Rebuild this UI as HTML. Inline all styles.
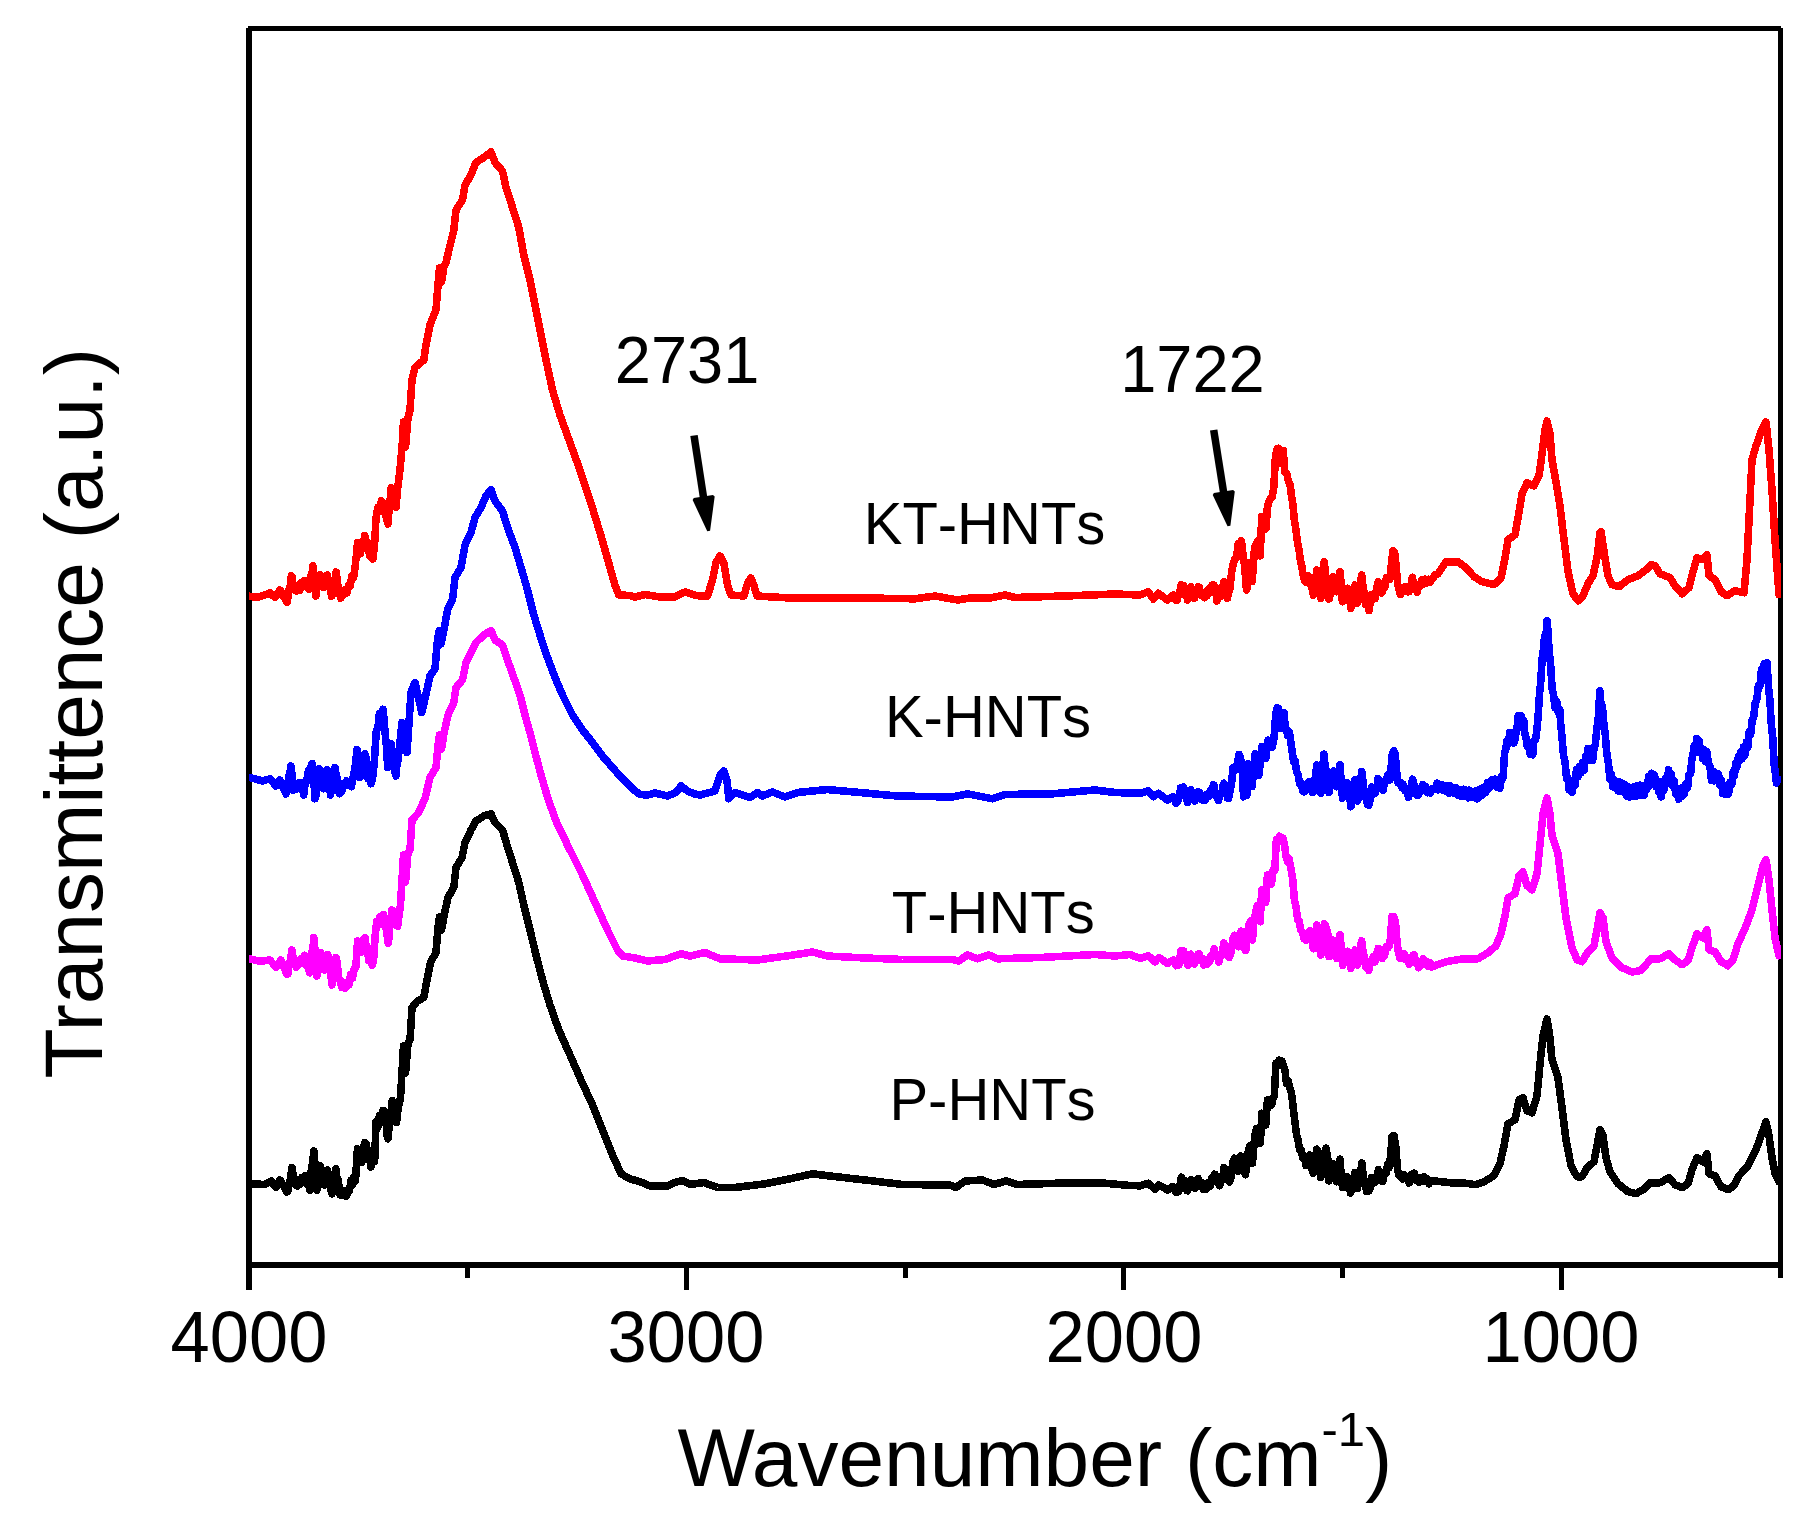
<!DOCTYPE html>
<html lang="en">
<head>
<meta charset="utf-8">
<title>FTIR spectra of HNTs</title>
<style>
html,body{margin:0;padding:0;background:#fff;}
body{width:1818px;height:1517px;overflow:hidden;font-family:"Liberation Sans",sans-serif;}
svg{display:block;}
text{font-kerning:none;}
</style>
</head>
<body>
<svg width="1818" height="1517" viewBox="0 0 1818 1517">
<rect x="0" y="0" width="1818" height="1517" fill="#ffffff"/>
<g fill="#000000" shape-rendering="crispEdges">
<rect x="246" y="28" width="6" height="1262"/>
<rect x="248" y="26" width="1533" height="5"/>
<rect x="1778" y="28" width="5" height="1250"/>
<rect x="246" y="1262" width="1537" height="6"/>
<rect x="684" y="1262" width="5" height="28"/>
<rect x="1121" y="1262" width="5" height="28"/>
<rect x="1559" y="1262" width="5" height="28"/>
<rect x="465" y="1262" width="5" height="16"/>
<rect x="903" y="1262" width="5" height="16"/>
<rect x="1340" y="1262" width="5" height="16"/>
</g>
<clipPath id="plot"><rect x="249" y="31" width="1532" height="1231"/></clipPath>
<g clip-path="url(#plot)">
<polyline id="c-black" fill="none" stroke="#000000" stroke-width="7.6" stroke-linejoin="round" stroke-linecap="round" shape-rendering="crispEdges" points="250.0,1183.8 265.0,1184.5 271.0,1181.0 276.0,1187.5 280.0,1180.0 287.0,1192.0 288.0,1191.0 288.7,1184.4 290.6,1178.4 291.8,1168.8 292.1,1167.5 293.8,1180.1 295.5,1182.8 295.5,1185.0 297.3,1186.0 298.7,1179.8 300.2,1184.0 302.0,1177.5 303.4,1182.0 305.0,1177.5 305.1,1175.9 306.8,1183.8 308.3,1183.1 309.5,1187.5 309.7,1190.1 311.2,1171.4 312.8,1161.8 313.8,1151.0 314.6,1159.3 316.0,1179.2 317.0,1190.0 317.6,1184.1 319.0,1179.5 320.5,1167.5 320.6,1166.1 322.2,1177.3 323.9,1180.4 324.5,1185.0 325.3,1184.7 326.6,1172.5 327.5,1170.0 327.9,1175.8 329.3,1178.1 330.6,1189.6 332.0,1193.8 332.3,1189.5 333.9,1183.7 335.5,1169.8 336.0,1168.8 336.8,1176.7 338.2,1180.5 340.1,1194.8 341.5,1190.3 343.1,1195.2 344.9,1190.6 346.4,1196.4 348.1,1190.8 349.5,1190.8 350.9,1180.5 352.5,1184.8 354.0,1176.8 355.5,1181.0 357.2,1152.0 357.5,1148.8 359.0,1159.1 360.5,1158.1 361.0,1162.5 361.9,1162.1 363.3,1147.1 364.7,1147.8 365.0,1142.5 366.4,1143.9 367.9,1159.0 369.4,1156.2 371.0,1167.0 372.8,1159.2 374.6,1161.6 376.1,1121.6 377.8,1127.2 379.3,1115.8 380.9,1121.2 382.8,1110.7 384.3,1115.3 384.5,1111.0 385.7,1118.5 387.4,1137.5 388.0,1138.8 388.8,1129.4 390.5,1119.2 392.0,1102.5 392.2,1100.5 393.7,1112.6 395.1,1109.9 396.5,1122.4 397.0,1118.8 397.9,1110.0 400.5,1097.5 402.0,1072.0 403.5,1046.0 405.5,1073.0 408.0,1044.0 410.0,1040.0 412.0,1007.5 417.5,1001.0 423.8,997.5 427.0,980.0 430.5,962.5 436.0,952.5 438.0,928.0 439.5,917.0 441.5,930.0 444.0,916.0 448.0,897.5 453.8,887.5 456.0,867.5 462.0,857.5 465.0,842.5 471.0,830.0 476.0,821.0 483.8,816.0 491.0,813.8 495.0,822.5 502.5,830.0 507.0,845.0 512.5,862.5 518.8,882.5 523.8,905.0 530.0,930.0 536.0,955.0 542.5,980.0 550.0,1005.0 558.8,1030.0 570.0,1055.0 581.0,1080.0 592.5,1105.0 603.8,1133.0 612.5,1155.0 621.0,1173.8 630.0,1178.8 642.5,1182.5 650.0,1186.0 667.5,1186.0 675.0,1182.5 682.5,1180.5 690.0,1184.5 703.8,1182.5 717.5,1187.5 735.0,1187.5 765.0,1183.8 790.0,1178.8 812.5,1173.8 830.0,1176.0 865.0,1180.0 902.5,1184.5 950.0,1185.0 956.0,1187.5 965.0,1181.0 982.5,1180.0 993.8,1184.5 1006.0,1181.0 1017.5,1184.5 1065.0,1183.0 1102.5,1183.0 1130.0,1185.5 1140.0,1185.8 1148.3,1183.3 1155.0,1189.2 1159.0,1185.0 1167.5,1190.0 1172.5,1186.7 1176.0,1192.3 1177.8,1189.6 1178.7,1191.7 1179.7,1187.1 1181.4,1177.2 1183.2,1181.0 1184.9,1180.4 1186.7,1190.6 1187.5,1190.8 1188.5,1185.1 1189.9,1185.4 1190.8,1180.0 1191.8,1180.0 1193.4,1187.3 1195.0,1188.3 1195.2,1186.4 1197.0,1186.2 1198.3,1180.0 1198.4,1178.6 1199.9,1184.8 1201.4,1182.4 1203.3,1189.4 1204.0,1188.3 1205.1,1186.1 1206.5,1189.0 1208.2,1182.7 1210.2,1186.0 1211.6,1178.1 1213.5,1178.2 1214.5,1174.2 1215.1,1174.3 1216.4,1181.8 1218.2,1181.6 1219.5,1185.8 1221.4,1179.9 1223.1,1175.4 1224.0,1167.5 1224.7,1168.3 1226.4,1177.7 1228.0,1177.7 1228.3,1180.8 1229.5,1181.8 1231.3,1176.3 1232.7,1162.3 1234.3,1158.3 1235.7,1162.3 1237.0,1163.2 1238.3,1170.0 1238.5,1171.2 1240.3,1157.5 1240.8,1155.8 1242.2,1165.1 1244.0,1171.5 1245.6,1174.7 1247.2,1156.4 1248.6,1149.7 1250.1,1145.4 1251.9,1160.7 1252.5,1163.3 1253.2,1153.2 1254.9,1135.2 1256.4,1128.9 1258.3,1135.8 1259.8,1138.9 1260.3,1143.3 1261.3,1124.2 1261.7,1113.3 1262.8,1115.2 1264.4,1122.8 1265.8,1125.0 1266.2,1118.4 1267.5,1100.0 1267.8,1102.2 1269.2,1100.3 1270.6,1105.5 1271.7,1105.0 1272.4,1099.4 1274.3,1095.6 1276.0,1063.6 1277.9,1065.7 1279.2,1060.3 1280.6,1064.9 1281.9,1061.0 1283.5,1066.6 1285.0,1070.5 1286.5,1083.6 1288.1,1080.5 1289.9,1087.8 1291.4,1092.5 1292.8,1104.0 1294.7,1120.4 1296.5,1134.7 1298.2,1140.7 1299.7,1149.7 1301.3,1149.9 1302.8,1158.0 1304.1,1157.6 1305.8,1163.3 1306.0,1165.5 1307.6,1158.2 1309.3,1159.1 1310.0,1155.0 1310.7,1157.7 1312.1,1169.6 1313.3,1173.3 1313.9,1167.9 1315.3,1160.6 1316.7,1149.2 1317.0,1149.3 1318.4,1162.5 1319.9,1168.8 1320.8,1177.5 1321.5,1174.5 1322.9,1157.5 1324.6,1152.4 1326.1,1148.2 1327.9,1159.9 1329.0,1180.8 1329.5,1177.3 1330.8,1176.1 1332.7,1164.9 1333.3,1164.2 1334.3,1171.8 1335.7,1175.2 1336.7,1181.7 1337.3,1180.7 1339.2,1163.4 1340.0,1159.2 1340.9,1171.6 1342.5,1187.5 1342.6,1185.7 1344.0,1187.0 1345.7,1179.1 1347.1,1179.5 1347.5,1176.7 1348.9,1180.9 1350.5,1193.0 1350.8,1191.7 1352.2,1183.7 1353.8,1180.2 1355.0,1172.5 1355.7,1175.0 1357.5,1186.7 1357.5,1188.6 1359.2,1176.4 1360.5,1173.0 1361.7,1164.2 1361.8,1163.1 1363.4,1177.5 1365.0,1184.4 1366.7,1191.4 1368.2,1188.7 1369.0,1190.8 1369.9,1188.5 1371.6,1177.4 1371.7,1178.3 1373.3,1183.1 1375.0,1182.5 1375.2,1180.5 1376.5,1179.4 1378.3,1170.8 1378.4,1169.6 1380.0,1176.9 1381.4,1175.7 1382.5,1180.0 1382.8,1181.6 1384.6,1172.6 1386.0,1173.3 1387.6,1164.8 1388.9,1168.0 1390.6,1156.0 1392.2,1136.1 1393.9,1135.4 1395.7,1146.1 1397.6,1170.1 1399.0,1175.3 1400.8,1175.9 1402.5,1179.0 1403.9,1174.5 1405.4,1178.4 1407.3,1177.2 1409.0,1180.8 1409.2,1183.1 1411.1,1175.2 1412.5,1176.8 1413.3,1173.3 1414.3,1173.2 1415.9,1180.1 1417.6,1177.8 1419.2,1182.4 1420.9,1177.7 1422.7,1180.8 1424.1,1176.8 1425.9,1181.5 1427.5,1179.1 1428.9,1183.8 1430.2,1180.4 1450.0,1182.7 1466.0,1183.3 1476.0,1184.7 1484.0,1181.7 1494.0,1175.7 1500.0,1163.7 1504.0,1145.8 1508.0,1123.8 1515.0,1119.8 1519.0,1099.8 1523.0,1097.8 1527.0,1110.8 1532.0,1112.8 1537.0,1095.8 1540.0,1063.9 1543.0,1035.9 1547.0,1019.0 1550.0,1037.9 1552.0,1059.9 1558.0,1077.9 1562.0,1107.8 1566.0,1139.8 1571.0,1165.7 1577.0,1176.7 1582.0,1176.7 1587.0,1167.7 1594.0,1161.7 1597.0,1145.8 1600.0,1129.8 1603.0,1135.8 1606.0,1157.7 1610.0,1171.7 1618.0,1183.7 1628.0,1191.7 1636.0,1193.7 1643.0,1189.7 1650.0,1182.7 1660.0,1182.7 1669.0,1177.7 1675.0,1184.7 1682.0,1187.7 1688.0,1183.7 1692.0,1169.7 1697.0,1157.7 1703.0,1161.7 1707.0,1153.7 1709.0,1173.7 1715.0,1175.7 1721.0,1186.7 1728.0,1189.7 1734.0,1185.7 1739.0,1175.7 1748.0,1165.7 1756.0,1149.8 1761.0,1135.8 1766.0,1121.8 1769.0,1135.8 1772.0,1157.7 1775.0,1173.7 1779.0,1181.7"/>
<polyline id="c-mag" fill="none" stroke="#ff00ff" stroke-width="7.6" stroke-linejoin="round" stroke-linecap="round" shape-rendering="crispEdges" points="250.0,958.8 260.0,961.3 270.0,960.0 276.0,967.5 281.0,960.0 287.0,974.5 288.0,973.8 288.7,967.1 290.5,960.1 291.8,951.0 292.0,949.9 293.4,960.6 294.8,960.0 295.5,965.0 296.2,967.2 297.7,960.6 299.4,964.1 300.9,959.0 302.7,963.0 304.5,955.3 305.0,957.5 306.2,965.6 308.0,965.8 309.5,972.5 309.9,972.7 311.6,953.9 313.2,945.4 313.8,937.5 314.7,947.5 316.1,967.2 317.0,976.0 317.9,967.3 319.6,961.7 320.5,952.5 321.4,954.5 323.1,966.7 324.5,968.1 324.5,970.0 326.1,965.3 327.5,956.0 327.7,954.6 329.2,967.9 330.8,974.4 332.0,983.8 332.2,985.0 333.7,971.5 335.4,965.2 336.0,957.5 337.0,961.3 338.8,977.5 340.2,981.3 342.0,987.5 343.4,982.2 345.2,988.4 347.0,983.1 348.9,985.0 350.6,974.6 352.5,978.3 354.2,968.7 355.9,967.2 357.5,942.5 357.6,940.9 359.3,951.9 360.8,949.3 361.0,952.5 362.5,950.5 363.9,939.1 365.0,937.5 365.6,945.4 367.2,946.4 368.8,960.8 370.1,958.0 372.1,965.1 373.5,960.6 375.2,935.4 376.8,921.3 378.6,925.2 380.1,916.7 382.0,923.6 383.6,914.4 385.0,924.8 386.6,930.4 388.0,942.5 388.4,943.3 390.1,923.0 391.6,918.4 392.0,910.0 393.1,910.7 394.5,922.0 396.0,920.5 397.0,926.0 397.6,926.1 400.5,905.0 402.0,880.0 403.5,855.0 405.5,882.0 408.0,853.0 410.0,850.0 412.0,820.0 418.8,812.5 425.0,798.5 430.0,777.5 436.0,767.5 438.0,745.0 439.5,735.0 441.5,749.0 444.0,733.0 448.0,715.0 453.8,702.5 456.0,687.5 462.5,680.0 466.0,662.5 471.0,652.5 476.0,642.5 483.8,635.0 491.0,630.5 495.0,640.0 502.5,645.0 507.5,660.0 513.8,677.5 520.0,695.0 525.0,715.0 530.0,732.5 535.0,752.5 541.0,775.0 547.5,797.0 553.8,815.0 558.8,827.5 570.0,850.0 582.5,875.0 595.0,902.5 607.5,930.0 617.5,950.0 622.5,956.0 635.0,958.0 647.5,961.0 665.0,959.5 681.0,953.8 690.0,956.0 705.0,952.5 720.0,958.8 757.5,960.0 790.0,955.5 812.5,952.0 827.5,956.0 865.0,958.0 902.5,959.5 952.5,959.5 958.8,961.0 967.5,955.0 977.5,958.8 988.8,955.0 997.5,958.8 1040.0,957.5 1095.0,954.5 1115.0,956.0 1130.0,954.5 1140.0,958.3 1148.3,955.8 1155.0,961.7 1159.0,957.5 1167.5,963.3 1173.3,960.0 1176.0,965.6 1177.9,962.1 1178.7,965.0 1179.2,964.5 1180.8,950.9 1182.1,954.5 1183.7,951.0 1185.3,958.8 1186.6,959.9 1187.5,965.0 1188.2,965.4 1189.9,955.5 1190.8,954.2 1191.2,957.8 1192.9,956.0 1194.6,964.1 1195.0,961.7 1196.1,957.3 1197.6,958.4 1198.3,954.2 1199.3,954.1 1200.6,960.0 1202.4,958.3 1203.9,965.1 1205.3,960.5 1206.8,964.3 1208.2,959.4 1209.6,962.0 1211.0,955.9 1212.8,956.0 1214.3,948.8 1214.5,950.0 1215.8,956.1 1217.4,955.6 1218.8,961.9 1220.5,956.3 1222.0,955.7 1223.8,943.1 1224.0,944.2 1225.7,951.2 1227.6,953.4 1229.2,957.6 1231.0,952.9 1232.9,939.2 1234.8,935.3 1236.7,939.5 1238.2,941.8 1238.7,946.7 1239.7,941.7 1240.8,931.7 1241.0,931.2 1242.4,942.8 1244.3,948.4 1245.7,950.5 1247.0,936.5 1248.8,925.4 1250.4,921.2 1252.0,936.9 1252.5,940.0 1253.8,923.1 1255.7,912.1 1257.2,905.9 1259.0,917.9 1260.3,921.7 1260.4,917.4 1261.7,890.0 1262.0,892.6 1263.6,893.7 1265.4,902.6 1265.8,901.7 1267.1,880.0 1267.5,875.0 1268.8,880.0 1270.2,877.1 1271.5,884.0 1271.7,881.7 1273.2,869.6 1274.8,870.0 1276.4,839.4 1277.6,841.5 1279.4,836.2 1281.3,840.6 1283.0,838.0 1284.5,845.0 1285.9,855.6 1287.5,861.4 1289.1,858.8 1290.7,867.7 1292.6,878.2 1294.4,899.7 1296.0,906.4 1297.7,920.1 1299.2,921.1 1300.7,930.3 1302.6,931.9 1304.1,938.9 1305.8,940.0 1305.9,938.1 1307.5,938.3 1309.0,931.7 1310.0,930.8 1310.4,935.2 1312.2,941.0 1313.3,948.3 1313.6,948.7 1315.0,935.9 1316.5,929.3 1316.7,925.0 1318.0,933.0 1319.4,946.7 1320.8,955.0 1321.1,951.0 1322.9,936.8 1324.4,923.7 1326.2,927.4 1328.0,934.4 1329.0,956.7 1329.7,956.2 1331.0,946.7 1332.7,944.3 1333.3,940.0 1334.6,944.9 1336.0,956.4 1336.7,958.3 1337.7,950.0 1339.4,941.5 1340.0,935.0 1341.2,947.1 1342.5,963.3 1342.9,965.4 1344.6,957.3 1346.1,958.1 1347.4,951.3 1347.5,953.3 1348.8,961.8 1350.3,964.3 1350.8,968.3 1351.9,966.3 1353.5,954.9 1355.0,950.0 1355.2,954.0 1357.1,960.9 1357.5,965.0 1358.9,958.7 1360.8,944.5 1361.7,940.8 1362.4,948.1 1364.2,956.8 1365.7,967.0 1367.5,964.6 1368.9,970.5 1369.0,968.3 1370.2,961.6 1371.7,959.7 1373.4,956.8 1374.8,962.1 1376.6,952.8 1377.9,952.5 1378.3,948.3 1379.6,949.2 1381.2,957.9 1382.5,958.3 1382.8,955.7 1384.6,955.8 1386.3,946.4 1387.7,948.1 1389.2,945.8 1390.5,938.0 1392.0,916.4 1393.8,916.7 1395.5,922.1 1396.9,940.6 1398.2,950.9 1399.8,958.0 1401.2,956.2 1402.8,958.5 1404.4,953.8 1406.1,959.9 1407.8,958.5 1409.0,962.5 1409.2,964.4 1411.1,957.3 1412.6,958.7 1413.3,955.0 1414.2,954.8 1415.7,962.9 1417.0,960.3 1418.3,965.0 1418.6,967.8 1420.0,961.7 1421.9,964.7 1423.2,958.7 1425.1,963.8 1426.9,961.6 1428.3,966.6 1430.0,962.5 1431.7,966.9 1446.0,961.7 1464.0,958.7 1478.0,958.7 1488.0,952.7 1496.0,945.8 1501.0,933.8 1505.0,915.8 1508.0,897.8 1515.0,893.8 1519.0,875.9 1523.0,871.9 1527.0,885.8 1532.0,889.8 1537.0,873.9 1540.0,843.9 1543.0,814.0 1547.0,798.0 1550.0,814.0 1552.0,835.9 1558.0,853.9 1562.0,885.8 1566.0,917.8 1572.0,947.7 1577.0,959.7 1582.0,961.7 1588.0,951.7 1594.0,945.8 1597.0,929.8 1600.0,912.8 1603.0,917.8 1606.0,941.8 1612.0,957.7 1622.0,967.7 1632.0,972.0 1640.0,970.7 1646.0,964.7 1651.0,958.7 1660.0,958.7 1669.0,953.7 1675.0,959.7 1682.0,964.7 1688.0,960.7 1692.0,947.7 1697.0,933.8 1703.0,937.8 1707.0,929.8 1709.0,949.7 1715.0,951.7 1721.0,961.7 1728.0,965.7 1733.0,959.7 1738.0,943.8 1746.0,925.8 1752.0,909.8 1758.0,885.8 1763.0,865.9 1766.0,859.9 1769.0,879.9 1772.0,909.8 1775.0,937.7 1779.0,955.7"/>
<polyline id="c-blue" fill="none" stroke="#0000ff" stroke-width="7.6" stroke-linejoin="round" stroke-linecap="round" shape-rendering="crispEdges" points="250.0,777.5 262.5,781.0 270.0,778.8 276.0,786.0 280.0,780.0 286.0,794.0 287.0,791.2 288.7,776.8 290.1,772.5 290.8,766.0 291.6,770.4 293.4,790.2 293.8,790.0 295.1,786.2 296.8,788.9 298.3,782.8 300.0,782.5 300.2,785.3 302.0,786.1 303.7,795.1 303.8,792.5 305.2,783.1 306.5,781.9 308.4,770.8 309.7,774.0 311.6,764.1 312.5,763.8 313.2,774.7 314.7,792.6 315.0,798.8 316.0,795.3 317.4,782.1 319.2,774.0 319.5,768.8 320.7,772.1 322.3,784.7 323.6,785.4 323.8,788.8 325.5,781.3 327.0,770.0 327.2,769.4 328.7,784.2 330.4,792.7 330.5,795.0 331.8,788.5 333.5,775.4 335.0,767.5 335.1,770.1 336.9,777.1 338.5,790.4 339.5,793.8 340.0,790.7 341.8,791.5 343.4,784.0 345.2,784.8 346.6,780.8 348.3,785.4 349.9,781.5 351.3,786.7 353.2,776.8 355.1,767.8 357.0,749.6 357.0,752.5 358.4,767.3 360.0,777.5 360.3,774.0 361.7,774.8 363.2,759.5 364.5,759.6 365.0,753.8 366.2,759.0 368.1,778.8 369.4,775.7 371.2,783.7 372.9,776.1 374.5,759.2 376.2,732.2 378.0,727.2 379.4,713.5 381.3,718.4 383.1,709.3 384.9,730.1 386.3,745.2 387.5,763.8 387.7,767.6 389.5,751.1 391.0,743.8 391.3,750.2 392.7,753.1 394.6,770.2 396.0,776.0 396.3,769.0 398.2,759.4 402.0,722.5 407.0,752.5 411.0,692.5 415.0,682.5 421.8,712.5 427.5,687.5 430.0,676.0 435.0,668.8 437.5,640.0 439.0,631.0 441.0,644.0 443.5,632.0 447.5,610.0 452.5,600.0 455.0,577.5 461.0,567.5 465.0,545.0 471.0,532.5 475.0,517.5 481.0,507.5 486.0,496.0 491.0,489.5 495.0,501.0 502.5,511.0 507.5,527.5 515.0,547.5 521.0,567.5 527.5,590.0 533.8,615.0 540.0,635.0 547.5,657.5 555.0,677.5 562.5,695.0 572.5,715.0 582.5,730.0 592.5,742.5 602.5,756.0 612.5,767.5 622.5,778.8 632.5,788.8 640.0,794.5 647.5,795.0 655.0,793.0 667.5,796.0 676.0,792.5 681.0,786.0 687.5,791.0 694.0,793.8 700.0,795.0 715.0,791.0 720.0,775.0 723.8,771.0 727.0,780.0 728.8,798.8 735.0,792.5 750.0,797.5 757.5,792.5 762.5,796.0 772.5,792.0 785.0,797.0 797.5,792.5 827.5,789.5 865.0,793.0 897.5,796.0 952.5,797.0 967.5,793.8 992.5,798.8 1005.0,794.5 1052.5,793.8 1095.0,790.0 1115.0,792.5 1140.0,793.3 1148.3,790.8 1153.3,796.7 1158.3,793.3 1167.5,800.0 1173.3,796.7 1176.0,803.1 1177.4,800.3 1177.5,801.7 1179.3,796.9 1180.6,787.9 1182.1,792.2 1183.6,787.0 1185.1,795.9 1186.9,798.4 1187.5,802.5 1188.8,800.3 1190.1,790.5 1190.8,790.0 1191.8,794.1 1193.2,792.6 1194.8,801.1 1195.0,798.3 1196.6,792.9 1198.2,794.6 1198.3,791.7 1199.9,792.9 1201.8,799.7 1203.3,800.0 1203.6,797.5 1205.3,800.0 1207.1,794.3 1208.5,796.5 1210.1,790.8 1212.0,791.5 1213.6,784.8 1214.0,785.8 1215.3,795.0 1216.8,797.3 1218.4,800.6 1220.1,794.6 1221.7,793.9 1223.3,784.4 1224.0,783.3 1225.2,790.7 1226.7,793.4 1227.5,798.3 1228.6,798.6 1230.2,790.5 1231.6,782.8 1233.0,768.0 1234.5,771.2 1236.0,766.1 1237.3,764.0 1239.1,754.4 1240.5,758.2 1241.8,763.7 1243.6,796.9 1245.2,792.9 1246.8,795.2 1248.3,764.2 1248.4,763.6 1250.2,777.1 1251.9,784.4 1252.0,786.7 1253.4,773.7 1255.2,753.9 1257.1,756.9 1258.7,769.4 1259.0,775.0 1260.2,763.8 1261.7,747.5 1261.9,746.5 1263.4,753.8 1265.3,755.4 1265.8,758.3 1266.6,752.1 1267.5,741.7 1268.1,740.3 1269.5,746.2 1270.8,744.0 1271.7,746.7 1272.2,747.4 1274.0,738.7 1275.8,713.2 1277.3,707.7 1278.3,708.3 1278.6,713.0 1280.2,722.0 1280.8,728.3 1282.0,725.3 1283.6,713.2 1284.0,712.5 1285.0,724.3 1286.3,730.0 1287.7,735.5 1289.4,731.8 1291.0,743.4 1292.3,752.1 1293.6,761.2 1294.9,760.3 1296.8,772.6 1298.2,774.5 1299.6,783.6 1301.4,783.6 1302.7,791.0 1304.0,791.7 1304.4,789.5 1306.2,790.4 1307.8,782.5 1309.0,781.7 1309.6,785.7 1311.0,784.9 1312.4,792.6 1313.3,791.7 1314.0,784.8 1315.8,775.0 1316.7,765.0 1317.2,767.0 1319.1,783.1 1320.6,790.0 1320.8,793.3 1322.0,779.8 1323.3,761.6 1324.0,754.2 1324.7,762.4 1326.6,773.6 1328.3,790.0 1329.0,792.5 1329.9,786.2 1331.7,781.1 1333.3,771.7 1333.6,771.1 1335.4,783.9 1336.7,786.7 1336.7,785.1 1338.1,779.5 1340.0,766.7 1340.0,764.8 1341.6,788.0 1342.5,798.3 1343.3,794.3 1345.2,793.3 1347.0,782.8 1347.5,783.3 1348.8,793.8 1350.2,801.2 1350.8,806.7 1351.7,803.0 1353.5,788.3 1354.8,783.2 1355.0,780.0 1356.2,788.5 1357.5,800.0 1357.7,800.8 1359.3,787.1 1360.8,780.9 1361.7,771.7 1362.2,774.1 1364.1,791.7 1365.6,796.7 1367.5,804.4 1368.9,803.5 1369.0,805.0 1370.4,798.0 1371.7,788.3 1371.7,787.0 1373.6,794.2 1375.0,791.6 1375.0,793.3 1376.8,788.2 1378.1,778.5 1378.3,779.2 1379.6,785.7 1381.3,785.2 1382.5,790.0 1383.0,790.4 1384.7,781.4 1386.4,780.6 1387.5,775.0 1387.9,774.5 1389.2,778.8 1390.0,780.0 1390.8,770.9 1392.2,754.8 1393.9,750.9 1395.2,753.9 1396.8,773.3 1398.2,782.8 1400.1,782.1 1401.7,787.5 1403.0,784.3 1404.9,790.8 1406.7,789.7 1408.6,797.2 1409.0,795.0 1410.0,788.8 1411.7,785.4 1412.5,779.2 1413.4,781.0 1415.0,790.9 1416.7,795.0 1416.8,793.3 1418.7,794.8 1420.1,788.6 1421.5,791.1 1422.8,784.7 1423.3,785.8 1424.3,789.8 1425.6,786.6 1427.4,792.7 1428.7,789.9 1430.4,793.0 1431.7,788.8 1436.0,788.8 1437.2,783.3 1438.4,789.8 1439.7,784.6 1441.1,789.3 1442.5,785.1 1443.6,790.6 1445.2,785.6 1446.5,791.7 1448.1,785.6 1449.4,793.3 1450.6,785.9 1451.9,792.3 1453.1,787.4 1454.6,793.2 1456.1,787.8 1457.4,794.8 1458.6,789.3 1459.8,795.8 1461.2,789.6 1462.6,795.9 1463.9,789.3 1465.4,796.1 1466.9,790.3 1468.5,797.8 1469.7,790.2 1470.9,797.6 1472.5,792.0 1473.9,797.4 1475.4,791.3 1476.8,798.8 1478.1,790.3 1479.6,797.0 1480.9,788.8 1482.6,795.1 1484.1,787.5 1485.6,792.6 1487.3,783.0 1488.5,789.1 1490.0,781.9 1491.4,786.2 1492.6,779.7 1494.0,780.7 1494.1,784.1 1495.4,779.3 1497.0,786.9 1498.4,782.0 1499.0,785.7 1500.0,788.3 1501.6,776.6 1503.0,778.2 1504.6,753.1 1505.8,749.4 1507.0,740.8 1508.4,743.5 1509.7,732.6 1510.0,733.8 1511.0,739.1 1512.5,732.9 1514.0,743.0 1515.0,739.8 1515.4,733.4 1516.6,732.4 1518.2,715.9 1519.7,723.0 1521.1,715.5 1522.5,720.5 1523.7,720.6 1524.9,733.9 1526.1,737.7 1527.3,746.3 1528.6,743.5 1530.2,754.5 1531.4,749.6 1532.0,753.8 1532.7,754.7 1533.9,740.7 1535.6,739.4 1537.0,728.5 1538.1,717.1 1539.4,695.3 1540.6,683.6 1542.3,657.5 1543.5,649.4 1544.6,636.2 1546.3,632.0 1547.0,621.0 1547.8,629.5 1549.1,650.8 1550.7,665.8 1552.2,689.2 1553.5,694.7 1555.1,707.6 1556.7,701.3 1558.2,712.4 1559.7,709.0 1560.8,724.9 1562.1,738.6 1563.6,756.2 1564.9,760.7 1566.6,778.4 1567.9,777.8 1569.2,789.9 1570.4,782.2 1572.1,792.4 1573.4,782.7 1575.0,785.6 1576.5,769.7 1578.1,776.7 1579.4,766.7 1581.0,773.0 1582.6,762.3 1583.9,770.7 1585.6,756.5 1586.8,760.9 1588.0,748.3 1589.6,757.9 1591.1,749.9 1592.6,760.5 1594.1,747.2 1595.2,745.7 1596.7,729.7 1598.3,717.5 1599.9,690.9 1600.0,694.5 1601.2,705.8 1602.4,706.6 1603.9,724.1 1605.2,734.0 1606.9,754.9 1608.3,762.3 1609.9,779.0 1611.5,773.9 1612.9,786.6 1614.1,780.0 1615.3,787.9 1616.8,781.3 1618.2,790.9 1619.7,781.7 1621.1,791.1 1622.6,783.4 1624.1,792.4 1625.3,784.6 1626.7,796.1 1628.3,786.9 1629.7,797.2 1631.1,787.4 1632.6,796.2 1634.0,787.0 1635.6,796.5 1637.3,785.4 1638.5,795.6 1640.2,785.2 1641.4,794.5 1642.7,787.9 1644.0,795.4 1645.5,785.7 1647.1,789.0 1648.6,776.6 1649.8,785.6 1651.5,773.3 1652.0,775.7 1653.1,782.6 1654.5,774.9 1656.1,786.6 1657.5,780.8 1658.8,791.7 1660.1,785.6 1661.0,791.7 1661.2,796.8 1662.6,785.2 1663.9,790.6 1665.3,778.6 1667.0,783.5 1668.6,769.8 1669.0,771.7 1669.9,777.9 1671.5,774.6 1672.6,786.0 1674.3,780.8 1675.5,793.1 1677.2,789.4 1678.0,795.7 1678.7,799.2 1679.8,789.9 1681.2,797.0 1682.8,787.5 1684.4,794.3 1686.0,784.0 1687.6,787.6 1688.9,774.8 1690.6,774.0 1691.8,759.4 1693.0,754.3 1694.2,746.1 1695.5,750.7 1696.7,738.4 1698.0,739.8 1698.0,745.3 1699.2,740.7 1700.4,752.8 1701.5,747.8 1702.9,758.6 1704.3,749.8 1705.5,761.4 1706.9,751.6 1708.5,763.9 1709.9,765.6 1711.5,780.6 1713.1,771.4 1714.6,780.8 1715.9,772.9 1717.1,779.8 1718.6,774.1 1719.8,784.7 1721.4,780.2 1722.9,793.6 1724.0,791.7 1724.2,788.2 1725.6,794.5 1726.9,785.5 1728.6,794.0 1730.0,782.4 1731.7,784.7 1733.0,772.5 1734.3,776.1 1735.7,763.7 1737.1,766.9 1738.4,756.6 1739.7,760.7 1740.9,751.8 1742.1,759.0 1743.5,747.0 1745.0,755.3 1746.6,741.9 1747.9,747.7 1749.2,732.2 1750.6,735.1 1752.2,719.7 1753.7,717.3 1755.3,702.6 1756.7,700.4 1758.3,686.2 1759.9,686.4 1761.5,669.8 1763.0,672.6 1764.1,664.1 1765.4,670.3 1767.0,662.9 1768.5,687.1 1770.0,700.9 1771.1,721.9 1772.7,737.2 1774.1,763.8 1775.2,771.9 1776.5,783.0 1777.8,779.1"/>
<polyline id="c-red" fill="none" stroke="#ff0000" stroke-width="7.6" stroke-linejoin="round" stroke-linecap="round" shape-rendering="crispEdges" points="250.0,596.3 257.5,597.5 270.0,593.0 275.0,597.5 280.0,590.0 287.0,602.3 287.5,600.0 288.6,591.2 290.2,586.0 291.3,576.0 291.9,576.4 293.5,587.6 295.0,590.0 295.3,588.1 296.7,591.1 298.5,584.9 299.8,590.3 301.7,582.6 303.4,586.2 304.7,580.5 305.0,582.5 306.0,586.4 307.5,584.2 308.8,587.5 309.0,589.3 310.9,575.7 312.5,571.4 313.0,566.0 314.3,576.8 315.7,596.2 316.0,595.0 317.6,584.3 319.4,581.0 320.0,575.0 320.8,575.7 322.1,585.5 323.6,584.4 323.8,587.5 325.2,586.8 327.0,575.2 327.5,575.0 328.4,583.1 330.0,583.9 331.5,596.1 332.0,596.0 333.2,586.8 334.7,583.7 336.0,574.0 336.2,572.1 337.9,585.5 339.4,590.0 340.0,595.0 340.7,598.2 342.1,591.4 343.6,595.1 345.4,589.7 347.1,592.7 348.6,585.0 350.1,586.6 351.9,575.9 353.7,577.1 355.3,564.9 356.9,550.8 357.5,542.5 358.9,542.7 360.3,553.9 361.0,550.0 361.8,544.7 363.1,546.9 364.8,535.4 365.0,537.5 366.4,546.1 368.0,542.4 369.6,556.1 371.4,550.3 372.8,559.1 374.6,544.1 376.0,518.1 377.9,507.6 379.8,511.2 381.4,500.9 382.8,506.6 384.7,504.3 386.4,518.3 388.0,524.0 388.2,517.9 389.7,506.5 391.0,489.0 391.4,487.7 392.9,498.8 394.7,495.5 396.0,502.5 396.1,507.1 397.6,488.4 400.0,470.0 402.0,448.0 403.5,422.0 405.5,447.0 408.0,418.0 410.0,410.0 412.0,380.0 415.0,367.5 423.8,360.0 426.0,345.0 430.0,325.0 436.0,310.0 438.0,285.0 439.5,268.0 441.5,282.0 444.0,266.0 446.0,262.5 449.5,247.5 453.8,230.0 456.0,210.0 462.5,200.0 465.0,185.0 471.0,175.0 476.0,162.5 483.8,157.5 491.0,152.0 495.0,162.5 502.5,171.0 506.0,187.5 512.5,207.5 518.8,227.5 523.8,255.0 530.0,280.0 535.0,305.0 540.0,330.0 546.0,360.0 552.5,390.0 560.0,415.0 570.0,442.5 580.0,470.0 590.0,500.0 600.0,532.5 610.0,567.5 615.0,585.0 618.8,595.0 630.0,595.5 635.0,597.0 645.0,594.5 660.0,597.0 675.0,597.0 685.0,592.0 694.0,595.0 700.0,596.0 707.5,596.0 712.5,580.0 716.0,562.5 720.0,556.0 723.8,562.5 727.5,585.0 731.0,595.0 743.8,596.0 748.0,582.5 750.8,578.0 753.8,585.0 757.0,596.0 790.0,598.0 865.0,598.0 915.0,598.8 935.0,596.0 957.5,600.0 970.0,598.0 990.0,598.0 1005.0,595.0 1015.0,597.5 1065.0,596.0 1115.0,594.0 1140.0,595.0 1148.3,591.7 1153.3,599.0 1158.3,593.3 1167.5,600.0 1173.3,595.0 1176.0,600.2 1177.5,600.0 1177.7,597.2 1179.3,594.8 1181.1,584.7 1182.7,589.2 1184.1,586.0 1185.7,595.6 1187.0,596.0 1187.5,600.0 1188.4,598.4 1189.7,588.8 1190.8,586.7 1191.5,591.3 1193.1,591.0 1194.6,598.3 1195.0,596.7 1196.0,591.5 1197.5,591.1 1198.3,586.7 1199.3,587.3 1201.2,594.9 1202.8,594.1 1203.3,596.7 1204.4,597.6 1205.7,592.2 1207.1,595.7 1208.5,589.2 1210.4,592.1 1212.2,585.3 1213.9,587.0 1214.0,585.0 1215.5,589.6 1216.9,601.0 1218.8,594.7 1220.3,596.5 1221.8,586.8 1223.3,585.7 1224.0,581.7 1224.7,582.9 1226.6,596.4 1227.5,598.3 1228.2,593.4 1229.9,588.5 1231.6,572.0 1233.3,563.3 1234.7,559.0 1236.5,557.8 1238.2,544.0 1239.6,545.8 1241.4,540.8 1242.9,554.3 1244.6,565.2 1246.5,589.9 1246.7,590.0 1248.4,568.5 1249.0,562.5 1250.0,572.2 1251.6,577.8 1252.0,581.7 1253.1,569.1 1254.5,548.0 1256.3,544.1 1257.9,540.6 1259.2,551.8 1260.3,555.8 1260.6,545.6 1261.7,516.7 1262.0,518.6 1263.5,519.1 1265.4,528.9 1266.3,528.3 1267.0,509.6 1268.9,501.4 1270.7,498.3 1272.1,497.6 1273.9,486.2 1275.5,455.9 1277.2,448.7 1278.3,448.3 1278.6,453.9 1280.0,463.3 1280.1,460.9 1281.4,461.2 1283.3,450.5 1283.3,451.7 1284.9,472.6 1286.8,473.4 1288.2,480.4 1290.1,484.7 1291.5,496.1 1292.8,503.8 1294.4,520.4 1296.2,531.8 1297.6,543.4 1299.1,550.1 1300.5,560.7 1301.9,566.5 1303.6,578.0 1304.9,579.4 1305.0,581.7 1306.8,582.4 1308.5,576.0 1309.0,576.7 1310.1,583.3 1311.9,587.6 1313.3,595.0 1313.6,594.7 1315.4,579.0 1316.7,572.6 1316.7,570.0 1318.1,578.7 1319.6,591.6 1320.8,598.3 1321.2,591.2 1322.6,579.9 1324.0,562.5 1324.2,561.9 1326.1,579.1 1327.8,589.3 1329.0,599.0 1329.5,598.5 1331.3,586.0 1332.8,581.7 1333.3,576.7 1334.7,581.4 1336.0,590.5 1336.7,591.7 1337.8,583.0 1339.4,578.1 1340.0,571.7 1340.7,578.6 1342.2,600.0 1342.5,601.7 1343.8,596.7 1345.2,596.3 1346.7,588.8 1347.5,588.3 1348.5,597.1 1350.2,603.1 1350.8,608.3 1351.6,605.9 1353.2,593.6 1355.0,585.0 1355.1,587.9 1356.7,595.9 1357.5,603.3 1358.5,599.9 1360.2,583.7 1361.7,575.0 1362.0,580.2 1363.8,591.1 1365.6,604.7 1367.4,604.1 1369.0,608.3 1369.1,610.7 1371.0,595.0 1372.3,596.1 1373.8,593.8 1375.1,598.7 1376.5,588.5 1378.3,581.7 1378.3,584.6 1379.9,584.2 1381.8,592.8 1382.5,591.7 1383.2,588.0 1384.9,587.2 1386.4,577.9 1387.8,579.3 1389.7,579.3 1391.4,564.1 1393.0,550.7 1394.6,552.1 1396.1,566.0 1397.8,584.8 1399.2,589.8 1400.0,593.3 1400.7,594.5 1402.6,588.7 1404.4,590.7 1405.0,586.7 1406.1,586.8 1407.7,591.9 1409.0,591.7 1409.4,588.4 1410.8,586.6 1412.4,577.3 1412.5,578.3 1413.9,584.6 1415.8,585.8 1416.7,590.0 1417.1,592.2 1418.9,584.5 1420.2,586.2 1421.8,579.9 1423.2,584.4 1425.0,579.1 1426.9,582.8 1428.5,579.3 1430.4,581.8 1435.0,575.0 1438.0,573.7 1446.0,561.7 1458.0,561.7 1466.0,567.7 1474.0,576.7 1482.0,581.7 1494.0,584.7 1501.0,577.7 1505.0,557.7 1508.0,539.8 1515.0,534.8 1518.0,517.8 1522.0,493.8 1527.0,482.9 1534.0,485.9 1539.0,475.9 1542.0,453.9 1545.0,430.0 1547.0,421.0 1550.0,434.0 1552.0,459.9 1556.0,481.9 1560.0,505.8 1564.0,539.8 1568.0,571.7 1573.0,593.7 1578.0,600.7 1583.0,595.7 1588.0,583.7 1593.0,575.7 1597.0,557.7 1600.0,532.8 1601.0,531.8 1605.0,557.7 1608.0,575.7 1612.0,584.7 1619.0,586.7 1628.0,579.7 1638.0,575.7 1646.0,569.7 1651.0,564.7 1655.0,565.7 1660.0,573.7 1670.0,577.7 1675.0,585.7 1682.0,593.7 1689.0,587.7 1693.0,571.7 1697.0,557.7 1703.0,559.7 1707.0,554.8 1709.0,575.7 1715.0,579.7 1721.0,591.7 1727.0,595.7 1735.0,590.7 1744.0,592.7 1747.0,559.7 1750.0,499.8 1752.0,459.9 1756.0,445.9 1761.0,431.9 1766.0,422.0 1769.0,449.9 1772.0,489.9 1775.0,539.8 1779.0,594.7"/>
</g>
<line x1="694.0" y1="435.5" x2="703.9" y2="499.9" stroke="#000" stroke-width="7.5"/><polygon fill="#000" stroke="#000" stroke-width="3" stroke-linejoin="bevel" points="708.6,530.5 694.0,499.4 713.2,496.4"/>
<line x1="1213.7" y1="430.0" x2="1224.0" y2="494.9" stroke="#000" stroke-width="7.5"/><polygon fill="#000" stroke="#000" stroke-width="3" stroke-linejoin="bevel" points="1228.9,525.5 1214.1,494.4 1233.3,491.4"/>
<text transform="translate(249,1362) scale(1,1.035)" font-size="70.5" text-anchor="middle" font-family="'Liberation Sans', sans-serif" fill="#000000">4000</text>
<text transform="translate(686,1362) scale(1,1.035)" font-size="70.5" text-anchor="middle" font-family="'Liberation Sans', sans-serif" fill="#000000">3000</text>
<text transform="translate(1124,1362) scale(1,1.035)" font-size="70.5" text-anchor="middle" font-family="'Liberation Sans', sans-serif" fill="#000000">2000</text>
<text transform="translate(1561,1362) scale(1,1.035)" font-size="70.5" text-anchor="middle" font-family="'Liberation Sans', sans-serif" fill="#000000">1000</text>
<text x="677.5" y="1485.5" font-size="82" style="font-kerning:normal" font-family="'Liberation Sans', sans-serif" fill="#000000">Wavenumber (cm<tspan font-size="49" dy="-40">-1</tspan><tspan dy="40">)</tspan></text>
<text transform="translate(102,1078.5) rotate(-90)" font-size="82" style="font-kerning:normal" font-family="'Liberation Sans', sans-serif" fill="#000000">Transmittence (a.u.)</text>
<text transform="translate(614.8,383) scale(1,1.035)" font-size="65" font-family="'Liberation Sans', sans-serif" fill="#000000">2731</text>
<text transform="translate(1120.2,392) scale(1,1.035)" font-size="65" font-family="'Liberation Sans', sans-serif" fill="#000000">1722</text>
<text transform="translate(863.7,543.7) scale(1,1.035)" font-size="58" font-family="'Liberation Sans', sans-serif" fill="#000000">KT-HNTs</text>
<text transform="translate(884.9,737) scale(1,1.035)" font-size="58" font-family="'Liberation Sans', sans-serif" fill="#000000">K-HNTs</text>
<text transform="translate(891.8,933) scale(1,1.035)" font-size="58" font-family="'Liberation Sans', sans-serif" fill="#000000">T-HNTs</text>
<text transform="translate(889.4,1120) scale(1,1.035)" font-size="58" font-family="'Liberation Sans', sans-serif" fill="#000000">P-HNTs</text>
</svg>
</body>
</html>
